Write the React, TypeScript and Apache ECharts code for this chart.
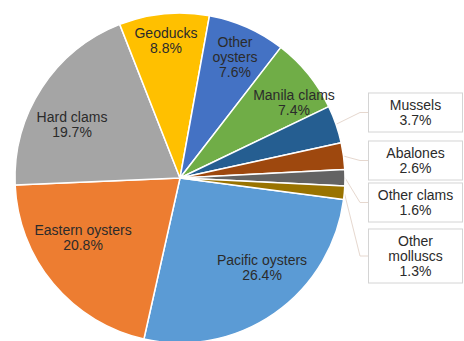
import React, { useEffect, useRef } from "react";
import * as echarts from "echarts";

// Shellfish production shares (%)
const categories = [
  "Pacific oysters",
  "Eastern oysters",
  "Hard clams",
  "Geoducks",
  "Other oysters",
  "Manila clams",
  "Mussels",
  "Abalones",
  "Other clams",
  "Other molluscs",
];
const shares = [26.4, 20.8, 19.7, 8.8, 7.6, 7.4, 3.7, 2.6, 1.6, 1.3];
const sliceColors = [
  "#5B9BD5",
  "#ED7D31",
  "#A5A5A5",
  "#FFC000",
  "#4472C4",
  "#70AD47",
  "#255E91",
  "#9E480E",
  "#636363",
  "#997300",
];
// label text for each slice (name may wrap onto two lines)
const labelNames = [
  "Pacific oysters",
  "Eastern oysters",
  "Hard clams",
  "Geoducks",
  "Other\noysters",
  "Manila clams",
  "Mussels",
  "Abalones",
  "Other clams",
  "Other\nmolluscs",
];
// slices whose labels sit in callout boxes to the right
const calloutSlices = ["Mussels", "Abalones", "Other clams", "Other molluscs"];

// label anchor positions (px) inside the chart
const labelPos: Record<string, [number, number]> = {
  "Pacific oysters": [262, 267],
  "Eastern oysters": [83, 237],
  "Hard clams": [72, 124],
  Geoducks: [166, 40],
  "Other oysters": [235, 57],
  "Manila clams": [294, 102],
  Mussels: [415.5, 112.5],
  Abalones: [415.5, 160.5],
  "Other clams": [415.5, 202.5],
  "Other molluscs": [415.5, 256],
};

export default function App() {
  const ref = useRef<HTMLDivElement>(null);

  useEffect(() => {
    if (!ref.current) return;
    const chart = echarts.init(ref.current, undefined, { renderer: "svg" });

    const data = categories.map((name, i) => {
      const callout = calloutSlices.includes(name);
      return {
        name,
        value: shares[i],
        itemStyle: { color: sliceColors[i] },
        label: callout
          ? {
              show: true,
              position: "outside" as const,
              formatter: `${labelNames[i]}\n${shares[i].toFixed(1)}%`,
              backgroundColor: "#ffffff",
              borderColor: "#d4d4d4",
              borderWidth: 1,
              width: 85,
              padding: [4, 4],
              align: "center" as const,
            }
          : {
              show: true,
              position: "inside" as const,
              formatter: `${labelNames[i]}\n${shares[i].toFixed(1)}%`,
            },
        labelLine: callout
          ? {
              show: true,
              length: 8,
              length2: 8,
              lineStyle: { color: "#e6d8cf", width: 1 },
            }
          : { show: false },
      };
    });

    chart.setOption({
      animation: false,
      backgroundColor: "#ffffff",
      series: [
        {
          type: "pie",
          center: [180, 178],
          radius: 165,
          startAngle: -7.5,
          clockwise: true,
          avoidLabelOverlap: false,
          itemStyle: { borderColor: "#ffffff", borderWidth: 1.5 },
          label: {
            fontFamily: "Liberation Sans, Arial, sans-serif",
            fontSize: 14,
            lineHeight: 15,
            color: "#2b2b2b",
            align: "center",
          },
          labelLayout: (params: any) => {
            const name = categories[params.dataIndex];
            const p = labelPos[name];
            if (!p) return {};
            return { x: p[0], y: p[1], align: "center", verticalAlign: "middle" };
          },
          data,
        },
      ],
    });

    return () => chart.dispose();
  }, []);

  return (
    <div
      ref={ref}
      style={{ position: "absolute", left: 0, top: 0, width: 464, height: 341 }}
    />
  );
}
